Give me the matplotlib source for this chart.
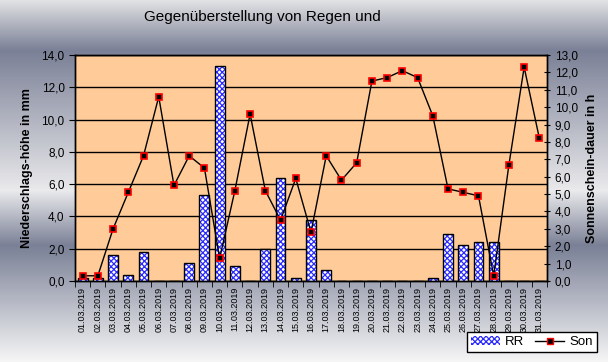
import numpy as np
import matplotlib
matplotlib.use("Agg")
import matplotlib.pyplot as plt
from matplotlib.lines import Line2D
from matplotlib.patches import Patch
from matplotlib.ticker import FuncFormatter

plt.rcParams['font.family'] = ['Liberation Sans', 'DejaVu Sans']
plt.rcParams['hatch.linewidth'] = 0.9

# Daten
tage = ['%02d.03.2019' % d for d in range(1, 32)]
rr = [0.2, 0.2, 1.6, 0.4, 1.8, 0.0, 0.0, 1.1, 5.3, 13.3,
      0.9, 0.0, 2.0, 6.4, 0.2, 3.8, 0.7, 0.0, 0.0, 0.0,
      0.0, 0.0, 0.0, 0.2, 2.9, 2.2, 2.4, 2.4, 0.0, 0.0, 0.0]
son = [0.3, 0.3, 3.0, 5.1, 7.2, 10.6, 5.5, 7.2, 6.5, 1.3,
       5.2, 9.6, 5.2, 3.5, 5.9, 2.8, 7.2, 5.8, 6.8, 11.5,
       11.7, 12.1, 11.7, 9.5, 5.3, 5.1, 4.9, 0.3, 6.7, 12.3, 8.2]

fig = plt.figure(figsize=(6.08, 3.62), dpi=100)

# Hintergrund-Verlauf
bg = fig.add_axes([0, 0, 1, 1], zorder=-10)
bg.axis('off')
stops_y = [0, 50, 190, 245, 362]
dark = np.array([122, 128, 150]) / 255
light = np.array([234, 234, 236]) / 255
stops_c = [np.array([226, 226, 228]) / 255, dark, light, dark, np.array([247, 247, 247]) / 255]
yy = np.arange(362)
grad = np.zeros((362, 1, 3))
for k in range(3):
    grad[:, 0, k] = np.interp(yy, stops_y, [c[k] for c in stops_c])
bg.imshow(grad, aspect='auto', extent=[0, 1, 0, 1])
bg.set_xlim(0, 1)
bg.set_ylim(0, 1)

ax = fig.add_axes([75 / 608, 1 - 281 / 362, 472 / 608, 226 / 362])
ax.set_facecolor('#FFCC99')
x = np.arange(len(tage))

ax.bar(x, rr, width=0.65, color='white', edgecolor='#2a2aff', hatch='xxxxxx',
       linewidth=0, zorder=3)
ax.bar(x, rr, width=0.65, fill=False, edgecolor='black', linewidth=1, zorder=4)

ax.set_xlim(-0.5, len(tage) - 0.5)
ax.set_ylim(0, 14)
ax.set_yticks(np.arange(0, 15, 2))
fmt = FuncFormatter(lambda v, p: ('%.1f' % v).replace('.', ','))
ax.yaxis.set_major_formatter(fmt)
ax.grid(axis='y', color='black', linewidth=1, zorder=1)
ax.set_axisbelow(True)
ax.set_xticks(x)
ax.set_xticklabels(tage, rotation=90, fontsize=6.5)
ax.set_xticks(np.arange(-0.5, len(tage), 1), minor=True)
ax.tick_params(axis='x', which='major', length=0, pad=4)
ax.tick_params(axis='x', which='minor', length=4, direction='out')
ax.tick_params(axis='y', labelsize=8.5, length=4, direction='out')
ax.set_ylabel('Niederschlags-höhe in mm', fontsize=9, fontweight='bold', labelpad=6)

ax2 = ax.twinx()
ax2.plot(x, son, color='black', linewidth=1, marker='s', markersize=5,
         markerfacecolor='black', markeredgecolor='red', markeredgewidth=1.2, zorder=5)
ax2.set_ylim(0, 13)
ax2.set_yticks(np.arange(0, 14, 1))
ax2.yaxis.set_major_formatter(fmt)
ax2.tick_params(axis='y', labelsize=8.5, length=4, direction='inout')
ax2.set_ylabel('Sonnenschein-dauer in h', fontsize=9, fontweight='bold', labelpad=6)

for a in (ax, ax2):
    for s in a.spines.values():
        s.set_color('black')
        s.set_linewidth(1)

fig.text(262 / 608, 1 - 17 / 362, 'Gegenüberstellung von Regen und', ha='center',
         va='center', fontsize=11)

handles = [Patch(facecolor='white', edgecolor='#2a2aff', hatch='xxxxxx', linewidth=0),
           Line2D([], [], color='black', linewidth=1, marker='s', markersize=5,
                  markerfacecolor='black', markeredgecolor='red')]
leg = fig.legend(handles, ['RR', 'Son'], loc='center', ncol=2,
                 bbox_to_anchor=(532 / 608, 1 - 342 / 362), fontsize=9.5,
                 frameon=True, fancybox=False, edgecolor='black', framealpha=1,
                 handlelength=2.2, handletextpad=0.4, columnspacing=0.8,
                 borderpad=0.3, borderaxespad=0)
leg.get_frame().set_linewidth(1)

fig.savefig('out.png', dpi=100)
